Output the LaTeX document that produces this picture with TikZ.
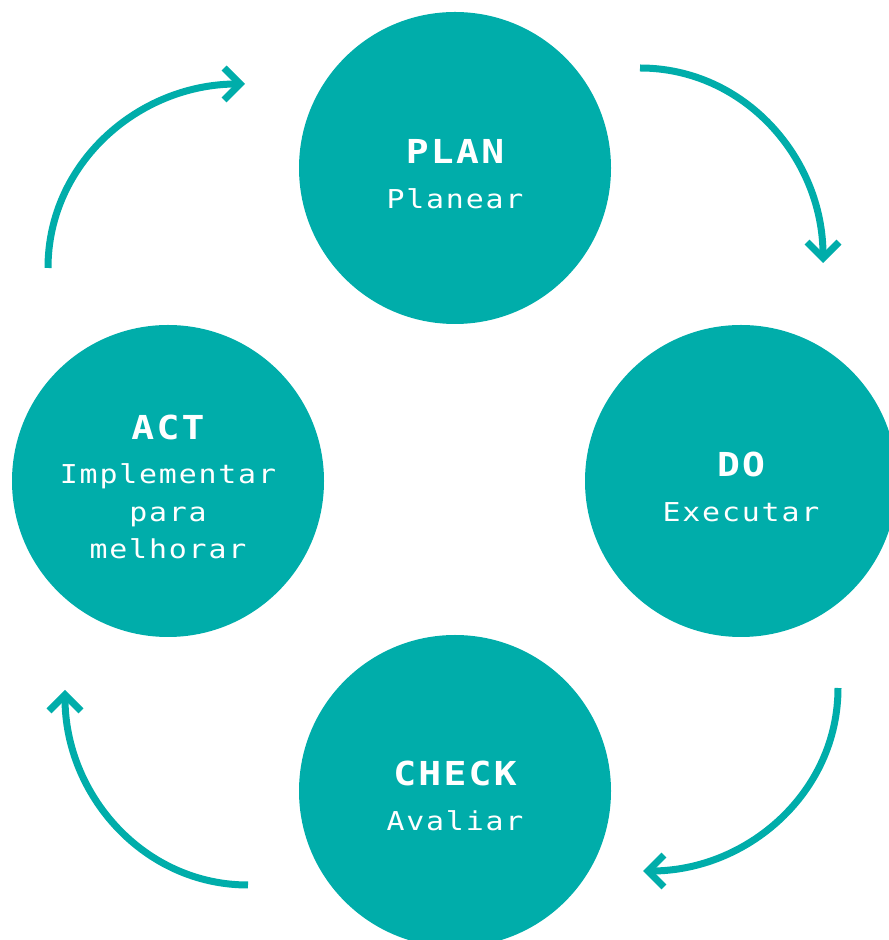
\documentclass[tikz,border=0pt]{standalone}
\usepackage{fontspec}
\usepackage{tikz}
\usetikzlibrary{arrows.meta}
\newfontfamily\cyclefont{DejaVu Sans Mono}[FakeStretch=1.15, LetterSpace=7]
\definecolor{cycleteal}{RGB}{0, 173, 170}

\begin{document}
\begin{tikzpicture}[x=1pt, y=1pt,
        phase/.style={circle, fill=cycleteal, minimum size=312pt, inner sep=0pt},
        phasetext/.style={text=white, align=center, inner sep=0pt,
            font=\cyclefont\fontsize{26}{37.5}\selectfont},
        cyclearrow/.style={line width=7pt, cycleteal, -{Straight Barb[length=16pt, width=32pt]}}]
        \useasboundingbox (0,0) rectangle (889,940);
        \clip (0,0) rectangle (889,940);

        % 四个阶段
        \node[phase] (plan) at (455, 772) {};
        \node[phase] (do) at (741, 459) {};
        \node[phase] (check) at (455, 149) {};
        \node[phase] (act) at (168, 459) {};

        % 阶段文字
        \node[phasetext] (plan-text) at ([yshift=-6pt]plan) {{\bfseries\fontsize{33}{36}\selectfont PLAN}\\[7pt]Planear};
        \node[phasetext] (do-text) at ([yshift=-6pt]do) {{\bfseries\fontsize{33}{36}\selectfont DO}\\[7pt]Executar};
        \node[phasetext] (check-text) at ([yshift=-5pt]check) {{\bfseries\fontsize{33}{36}\selectfont CHECK}\\[7pt]Avaliar};
        \node[phasetext] (act-text) at ([yshift=-6pt]act) {{\bfseries\fontsize{33}{36}\selectfont ACT}\\[7pt]Implementar\\para\\melhorar};

        % 箭头端点
        \coordinate (act-out) at (48, 672);
        \coordinate (plan-in) at (245, 856);
        \coordinate (plan-out) at (640, 872);
        \coordinate (do-in) at (823, 677);
        \coordinate (do-out) at (838, 252);
        \coordinate (check-in) at (643, 69);
        \coordinate (check-out) at (248, 55);
        \coordinate (act-in) at (65, 250);

        % 循环箭头
        \draw[cyclearrow] (act-out) to[out=90, in=180] (plan-in);
        \draw[cyclearrow] (plan-out) to[out=0, in=90] (do-in);
        \draw[cyclearrow] (do-out) to[out=-90, in=0] (check-in);
        \draw[cyclearrow] (check-out) to[out=180, in=-90] (act-in);
    \end{tikzpicture}
\end{document}
